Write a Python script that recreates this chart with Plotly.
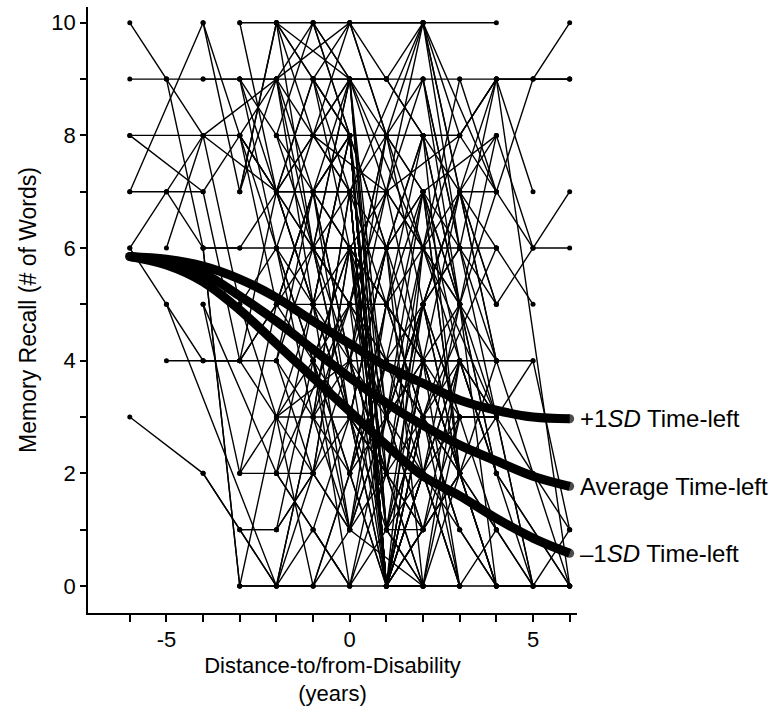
import plotly.graph_objects as go

# individual trajectories: years relative to disability onset, and recall score
years = [
    [-6, -5, -4, -3], [-6, -5, -4, -3, -2], [-6, -4, -3, -2, -1], [-6, -4, -3, -1, 0],
    [-6, -5, -4, -3], [-6, -4, -3, -2], [-6, -5, -4, -2, -1], [-6, -5, -4, -3, -2],
    [-6, -4, -3, -2, -1], [-5, -4, -2, 0, 1], [-5, -4, -3, -2], [-5, -2, -1, 0],
    [-5, -4, -3, -2, -1], [-5, -4, -3, -1], [-4, -3, -2, -1, 0], [-4, -3, -2, -1, 1],
    [-4, -3, -2, 0, 1, 2], [-4, -3, 0, 1, 2], [-4, -3, -2, -1, 0], [-4, -2, -1, 0, 1],
    [-4, -3, -2, -1, 0], [-4, -2, 0, 2, 4], [-3, -2, -1, 0, 2, 4], [-3, -2, -1, 0, 1, 2],
    [-3, -2, -1, 0, 1], [-3, -2, -1, 0, 1, 2], [-3, -2, -1, 0, 1, 2, 3], [-3, -2, -1, 0, 1, 2],
    [-3, -2, -1, 0, 1], [-3, -2, -1, 0, 2, 3], [-3, -2, 0, 1, 2], [-3, -2, -1, 0, 1],
    [-3, -2, -1, 0, 1, 2, 3], [-2, -1, 0, 1, 2, 3, 4], [-2, -1, 0, 1, 2, 3], [-2, -1, 0, 1, 2],
    [-2, -1, 0, 1, 3, 4], [-2, -1, 0, 1, 2, 3, 4], [-2, -1, 0, 1, 2, 4], [-2, -1, 0, 1, 2, 3],
    [-2, -1, 0, 1, 2], [-2, -1, 0, 1, 3], [-2, -1, 0, 1, 2, 3, 4], [-2, -1, 0, 1, 2],
    [-2, 0, 1, 2, 3, 4], [-2, -1, 0, 1, 2], [-2, -1, 0, 1, 2, 3], [-2, 0, 2, 3, 4],
    [-2, -1, 0, 1, 2, 3], [-2, -1, 0, 1], [-2, -1, 0, 1, 2], [-1, 0, 1, 2, 3, 4],
    [-1, 0, 1, 2, 3, 4, 5, 6], [-1, 0, 1, 2, 3], [-1, 0, 1, 2, 4], [-1, 0, 1, 2, 3, 4],
    [-1, 0, 1, 2, 3], [-1, 0, 1, 2, 3, 4], [-1, 0, 1, 2], [-1, 0, 1, 2, 3, 4, 5],
    [-1, 0, 1, 2, 3], [-1, 0, 1, 2, 3], [-1, 0, 1, 2, 3, 4], [-1, 0, 1, 2, 3],
    [-1, 0, 1, 3, 4], [-1, 0, 1, 2], [-1, 0, 1, 2, 3, 4, 6], [0, 2, 4, 5, 6],
    [0, 1, 2, 3, 4], [0, 1, 2, 3, 4, 5, 6], [0, 1, 2, 3, 4, 5, 6], [0, 1, 2, 3, 4, 5],
    [0, 1, 2, 3, 4, 5, 6], [0, 1, 2, 3, 4], [0, 1, 2, 3, 4, 6], [0, 1, 2, 4, 5],
    [1, 2, 3, 4, 5, 6], [0, 1, 2, 3, 5], [0, 1, 2, 3, 4], [0, 1, 2, 3],
    [0, 1, 3, 5, 6], [0, 1, 2, 4, 5, 6], [0, 2, 3, 4, 6], [1, 2, 3, 4, 5],
    [1, 2, 4, 6], [2, 3, 4, 5, 6], [1, 2, 3, 4, 5],
    [-2, -1, 0, 1, 2, 3], [-2, -1, 0, 1, 2], [-2, -1, 0, 1, 2, 3], [-2, -1, 0, 1, 2, 3],
    [-2, -1, 0, 1], [-2, -1, 0, 1, 2], [-1, 0, 1, 2, 3], [-1, 0, 1, 2, 3],
    [-1, 0, 1, 2, 3], [-1, 0, 1, 2, 3, 4], [-1, 0, 1, 2, 3], [-1, 0, 1, 2],
    [-1, 0, 1, 2, 3], [0, 1, 2, 3, 4], [0, 1, 2, 3, 4], [0, 1, 2, 3, 4],
    [0, 1, 2, 3], [0, 1, 2, 3, 4], [0, 1, 2, 3], [-3, -2, -1, 0, 1],
    [-3, -2, -1, 0, 1], [-3, -2, -1, 0, 1, 2], [-2, -1, 0, 1, 2, 3, 4], [-2, -1, 0, 1, 2, 3],
    [-1, 0, 1, 2, 3, 4], [0, 1, 2, 3, 4], [-2, -1, 0, 1, 2], [-2, -1, 0, 1, 2, 3],
    [-1, 0, 1, 2, 3, 4], [1, 2, 3, 4, 5],
    [-3, -2, -1, 0, 1], [-3, -2, -1, 0, 1, 2], [-3, -2, -1, 0], [-3, -2, -1, 0, 1],
    [-3, -2, -1, 0], [-2, -1, 0, 1], [-2, -1, 0, 1, 2], [1, 2, 3, 4, 5, 6],
    [1, 2, 3, 4, 5], [2, 3, 4, 5, 6], [1, 2, 3, 4], [2, 3, 4, 6],
    [0, 1, 2, 3, 4],
]
recall = [
    [10, 9, 6, 0], [9, 9, 9, 9, 9], [8, 8, 5, 3, 2], [8, 7, 8, 6, 9],
    [7, 7, 7, 4], [7, 10, 7, 10], [6, 7, 8, 7, 5], [6, 5, 4, 4, 5],
    [3, 2, 1, 1, 2], [9, 8, 9, 10, 8], [6, 8, 8, 6], [5, 0, 1, 0],
    [4, 4, 4, 3, 0], [7, 6, 6, 8], [10, 8, 7, 7, 8], [9, 9, 9, 8, 7],
    [6, 6, 6, 6, 6, 6], [6, 0, 0, 2, 1], [5, 2, 2, 1, 3], [2, 0, 0, 2, 0],
    [4, 4, 5, 6, 5], [5, 2, 5, 3, 6], [10, 10, 10, 10, 10, 10], [9, 8, 10, 9, 9, 8],
    [8, 9, 9, 7, 0], [7, 10, 9, 8, 0, 3], [4, 4, 3, 2, 4, 2, 0], [2, 3, 4, 6, 5, 4],
    [1, 1, 2, 3, 0], [1, 0, 0, 1, 0, 0], [0, 3, 4, 0, 1], [0, 0, 3, 5, 8],
    [8, 7, 6, 5, 4, 3, 3], [10, 9, 9, 9, 9, 9, 9], [9, 10, 8, 8, 7, 5], [8, 8, 8, 0, 2],
    [8, 7, 6, 3, 5, 7], [7, 7, 7, 7, 6, 7, 5], [6, 5, 6, 7, 4, 0], [5, 5, 5, 5, 3, 1],
    [5, 4, 0, 1, 3], [4, 6, 7, 0, 2], [3, 3, 3, 2, 1, 3, 3], [2, 2, 1, 5, 6],
    [2, 0, 3, 4, 4, 2], [1, 4, 2, 0, 0], [0, 2, 6, 1, 0, 3], [10, 9, 6, 5, 3],
    [7, 9, 10, 8, 6, 8], [9, 7, 8, 0], [6, 8, 9, 1, 4], [10, 9, 9, 8, 7, 7],
    [9, 9, 8, 8, 8, 9, 9, 9], [8, 8, 0, 3, 1], [8, 7, 8, 7, 8], [7, 8, 0, 4, 2, 0],
    [6, 6, 4, 5, 6], [5, 3, 2, 2, 4, 3], [4, 5, 0, 0], [3, 4, 3, 6, 5, 4, 4],
    [2, 1, 4, 3, 2], [0, 2, 5, 4, 0], [1, 0, 0, 2, 3, 3], [9, 8, 0, 2, 0],
    [6, 9, 1, 5, 0], [10, 8, 6, 0], [4, 6, 5, 3, 4, 2, 0], [10, 10, 7, 9, 10],
    [9, 7, 10, 7, 6], [8, 8, 8, 8, 9, 9, 9], [7, 6, 7, 6, 5, 6, 7], [6, 6, 6, 6, 6, 5],
    [5, 5, 4, 3, 3, 4, 1], [4, 4, 4, 4, 4], [3, 2, 3, 1, 0, 0], [2, 3, 2, 0, 0],
    [0, 0, 0, 0, 0, 0], [7, 0, 2, 4, 0], [8, 0, 3, 0, 1], [8, 1, 1, 2],
    [5, 7, 8, 6, 6], [1, 3, 5, 9, 9, 9], [7, 10, 8, 9, 0], [9, 10, 6, 9, 7],
    [7, 6, 3, 1], [10, 7, 4, 2, 0], [3, 5, 7, 8, 6],
    [10, 8, 7, 5, 4, 2], [9, 6, 5, 3, 1], [3, 5, 8, 6, 7, 5], [4, 7, 7, 0, 0, 2],
    [2, 5, 8, 0], [0, 3, 7, 0, 4], [9, 8, 0, 1, 4], [8, 9, 2, 5, 3],
    [7, 6, 0, 3, 2], [5, 8, 3, 1, 2, 4], [3, 7, 0, 6, 4], [2, 6, 1, 2],
    [6, 3, 6, 8, 5], [8, 1, 5, 7, 5], [7, 0, 2, 5, 8], [6, 2, 0, 4, 3],
    [9, 3, 7, 2], [3, 6, 8, 5, 2], [2, 5, 7, 4], [9, 7, 5, 4, 2],
    [8, 5, 7, 3, 6], [5, 6, 3, 1, 2, 0], [6, 4, 2, 4, 7, 2, 1], [5, 7, 4, 6, 2, 0],
    [4, 1, 3, 5, 2, 0], [5, 8, 5, 2, 0], [7, 5, 3, 0, 1], [8, 6, 4, 2, 5, 6],
    [7, 4, 7, 9, 6, 4], [5, 8, 2, 3, 0],
    [10, 7, 9, 6, 5], [9, 6, 4, 3, 1, 0], [7, 9, 5, 1], [4, 7, 8, 10, 9],
    [2, 5, 7, 9], [10, 6, 3, 2], [4, 2, 4, 8, 10], [6, 4, 2, 1, 0, 0],
    [8, 9, 6, 3, 0], [5, 3, 1, 0, 1], [0, 4, 7, 4], [9, 5, 2, 0],
    [4, 2, 6, 9, 7],
]

# model-implied trajectories
curve_years = [-6, -5, -4, -3, -2, -1, 0, 1, 2, 3, 4, 5, 6]
plus_sd = [5.85, 5.8, 5.68, 5.45, 5.12, 4.7, 4.3, 3.9, 3.6, 3.3, 3.12, 3.0, 2.97]
average = [5.85, 5.75, 5.55, 5.15, 4.7, 4.2, 3.7, 3.25, 2.85, 2.5, 2.22, 1.95, 1.77]
minus_sd = [5.85, 5.7, 5.4, 4.9, 4.3, 3.7, 3.1, 2.5, 1.95, 1.6, 1.2, 0.85, 0.58]
curve_labels = ['+1<i>SD</i> Time-left', 'Average Time-left', '\u20131<i>SD</i> Time-left']

x_ticks = list(range(-6, 7))
x_ticktext = ['-5' if v == -5 else '0' if v == 0 else '5' if v == 5 else '' for v in x_ticks]
y_ticks = list(range(0, 11))
y_ticktext = [str(v) if v % 2 == 0 else '' for v in y_ticks]

FONT = 'Liberation Sans, Arial, sans-serif'
X_RANGE = [-7.14, 6.2]

xs, ys = [], []
for t, r in zip(years, recall):
    xs += t + [None]
    ys += r + [None]

fig = go.Figure()
fig.add_trace(go.Scatter(
    x=xs, y=ys, mode='lines+markers',
    line=dict(color='black', width=1.4),
    marker=dict(color='black', size=5, line=dict(width=0)),
    connectgaps=False, hoverinfo='skip'
))

# labels sit just right of the plot area
label_x = (6.24 - X_RANGE[0]) / (X_RANGE[1] - X_RANGE[0])
for vals, label in zip([plus_sd, average, minus_sd], curve_labels):
    fig.add_trace(go.Scatter(
        x=curve_years, y=vals, mode='lines+markers',
        line=dict(color='black', width=9, shape='spline'),
        marker=dict(color='black', size=[9] + [0] * (len(vals) - 2) + [9],
                    line=dict(width=0)),
        hoverinfo='skip'
    ))
    fig.add_annotation(
        x=label_x, y=vals[-1], xref='paper', yref='y', text=label,
        showarrow=False, xanchor='left', yanchor='middle',
        font=dict(family=FONT, size=24, color='black')
    )

fig.update_layout(
    width=777, height=727,
    margin=dict(l=88, r=200, t=7, b=114),
    plot_bgcolor='white', paper_bgcolor='white',
    showlegend=False,
    font=dict(family=FONT, color='black'),
    xaxis=dict(
        range=X_RANGE, tickvals=x_ticks, ticktext=x_ticktext,
        showline=True, linecolor='black', linewidth=1.5,
        ticks='outside', ticklen=7, tickwidth=1.5, tickcolor='black',
        showgrid=False, zeroline=False, automargin=False,
        tickfont=dict(size=22), ticklabelstandoff=-1,
        title=dict(text='Distance-to/from-Disability<br>(years)',
                   font=dict(size=22), standoff=6)
    ),
    yaxis=dict(
        range=[-0.48, 10.28], tickvals=y_ticks, ticktext=y_ticktext,
        showline=True, linecolor='black', linewidth=1.5,
        ticks='outside', ticklen=6, tickwidth=1.5, tickcolor='black',
        showgrid=False, zeroline=False, automargin=False,
        tickfont=dict(size=22),
        title=dict(text='Memory Recall (# of Words)',
                   font=dict(size=23), standoff=8)
    ),
)

# drop the browser's default page margin so the figure sits at the window corner
fig.write_html('out.html', config={'displayModeBar': False},
               post_script="document.body.style.margin='0';")
